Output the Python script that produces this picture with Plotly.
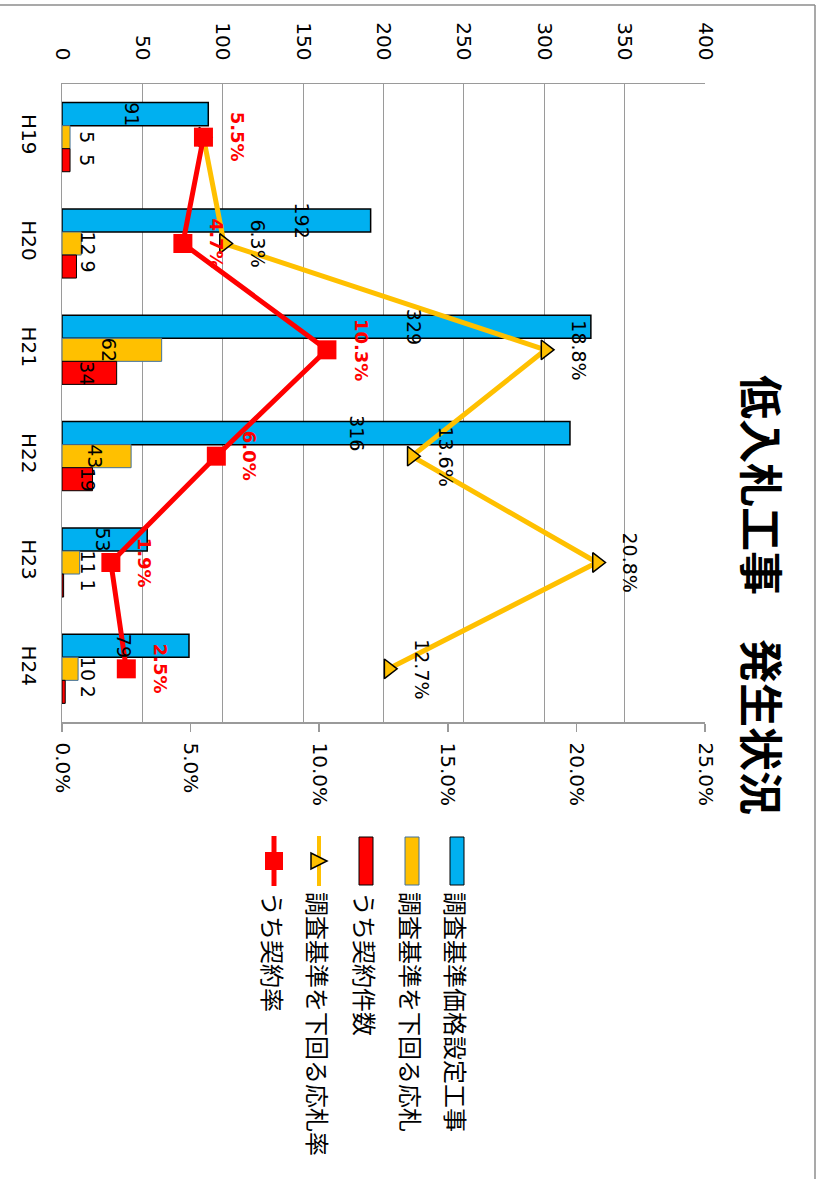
import plotly.graph_objects as go

# ---------------- data ----------------
categories = ["H19", "H20", "H21", "H22", "H23", "H24"]
set_works = [91, 192, 329, 316, 53, 79]          # 調査基準価格設定工事
below_bids = [5, 12, 62, 43, 11, 10]             # 調査基準を下回る応札
contracts = [5, 9, 34, 19, 1, 2]                 # うち契約件数
below_rate = [0.055, 0.063, 0.188, 0.136, 0.208, 0.127]   # 調査基準を下回る応札率
contract_rate = [0.055, 0.047, 0.103, 0.060, 0.019, 0.025]  # うち契約率

count_ticks = [0, 50, 100, 150, 200, 250, 300, 350, 400]
rate_ticks = [0, 0.05, 0.10, 0.15, 0.20, 0.25]

names = ["調査基準価格設定工事", "調査基準を下回る応札", "うち契約件数",
         "調査基準を下回る応札率", "うち契約率"]
title = "低入札工事　発生状況"

# ---------------- styles ----------------
BLUE = "#00B0F0"
YEL = "#FFC000"
RED = "#FF0000"
GRID = "#9a9a9a"
LAT = "DejaVu Sans"
JP = "Noto Sans CJK JP"

# plot area in pixels
L, R, T, B = 62, 705, 84, 722
W, H = 823, 1179
def px(x):
    return (x - L) / (R - L)
def py(y):
    return (B - y) / (B - T)

# label pixel offsets from the value-axis origin (label placement style)
blue_lbl_px = [70, 240, 352, 295, 41, 62]
yel_lbl_px = [25, 26, 47, 33, 26, 26]
red_lbl_px = [25, 26, 25.5, 25.5, 26, 26]
BAR_PX = 23

fig = go.Figure()
fig.add_trace(go.Bar(y=categories, x=set_works, orientation="h", name=names[0],
                     marker=dict(color=BLUE, line=dict(color="black", width=1.5)),
                     xaxis="x", yaxis="y"))
fig.add_trace(go.Bar(y=categories, x=below_bids, orientation="h", name=names[1],
                     marker=dict(color=YEL, line=dict(color="#41719C", width=1)),
                     xaxis="x", yaxis="y"))
fig.add_trace(go.Bar(y=categories, x=contracts, orientation="h", name=names[2],
                     marker=dict(color=RED, line=dict(color="black", width=1)),
                     xaxis="x", yaxis="y"))
fig.add_trace(go.Scatter(y=categories, x=below_rate, name=names[3], mode="lines+markers",
                         line=dict(color=YEL, width=5),
                         marker=dict(symbol="triangle-right", size=17, color=YEL,
                                     line=dict(color="black", width=1.5)),
                         xaxis="x2", yaxis="y"))
fig.add_trace(go.Scatter(y=categories, x=contract_rate, name=names[4], mode="lines+markers",
                         line=dict(color=RED, width=5),
                         marker=dict(symbol="square", size=19, color=RED),
                         xaxis="x2", yaxis="y"))

ann = []
# bar value labels
for i, c in enumerate(categories):
    for vals, offs, shift in ((set_works, blue_lbl_px, BAR_PX),
                              (below_bids, yel_lbl_px, 0),
                              (contracts, red_lbl_px, -BAR_PX)):
        ann.append(dict(x=0, y=c, xref="x", yref="y", xshift=offs[i], yshift=shift,
                        text=str(vals[i]), textangle=90, showarrow=False,
                        xanchor="center", yanchor="middle",
                        font=dict(family=LAT, size=19, color="black")))
# rate labels
for i, c in enumerate(categories):
    if i > 0:
        ann.append(dict(x=below_rate[i], y=c, xref="x2", yref="y", xshift=34,
                        text=f"{below_rate[i]*100:.1f}%", textangle=90, showarrow=False,
                        xanchor="center", yanchor="middle",
                        font=dict(family=LAT, size=19, color="black")))
    ann.append(dict(x=contract_rate[i], y=c, xref="x2", yref="y", xshift=34,
                    text=f"<b>{contract_rate[i]*100:.1f}%</b>", textangle=90, showarrow=False,
                    xanchor="center", yanchor="middle",
                    font=dict(family=LAT, size=18, color=RED)))

# title
ann.append(dict(x=px(763), y=py(595), xref="paper", yref="paper", text=f"<b>{title}</b>",
                textangle=90, showarrow=False, xanchor="center", yanchor="middle",
                font=dict(family=JP, size=44, color="black")))

# legend (drawn manually, rotated)
shapes = []
leg_x = [457, 412, 366, 319, 274]
for k, xc in enumerate(leg_x):
    ann.append(dict(x=px(xc), y=py(890), xref="paper", yref="paper", text=names[k],
                    textangle=90, showarrow=False, xanchor="center", yanchor="top",
                    font=dict(family=JP, size=24, color="black")))
rect_styles = [(BLUE, "black"), (YEL, "#41719C"), (RED, "black")]
for k in range(3):
    xc = leg_x[k]
    shapes.append(dict(type="rect", xref="paper", yref="paper",
                       x0=px(xc - 7), x1=px(xc + 7), y0=py(885), y1=py(837),
                       fillcolor=rect_styles[k][0], line=dict(color=rect_styles[k][1], width=1)))
# yellow line legend
xc = leg_x[3]
shapes.append(dict(type="line", xref="paper", yref="paper", x0=px(xc), x1=px(xc),
                   y0=py(836), y1=py(886), line=dict(color=YEL, width=4)))
shapes.append(dict(type="path", xref="paper", yref="paper",
                   path=f"M {px(xc-8)},{py(853)} L {px(xc-8)},{py(869)} L {px(xc+8)},{py(861)} Z",
                   fillcolor=YEL, line=dict(color="black", width=1.5)))
# red line legend
xc = leg_x[4]
shapes.append(dict(type="line", xref="paper", yref="paper", x0=px(xc), x1=px(xc),
                   y0=py(836), y1=py(886), line=dict(color=RED, width=5)))
shapes.append(dict(type="rect", xref="paper", yref="paper",
                   x0=px(xc - 9), x1=px(xc + 9), y0=py(870), y1=py(852),
                   fillcolor=RED, line=dict(color=RED, width=0)))
# outer chart border (top and right visible)
shapes.append(dict(type="line", xref="paper", yref="paper", x0=px(-5), x1=px(815),
                   y0=py(5), y1=py(5), line=dict(color="#8c8c8c", width=1.5)))
shapes.append(dict(type="line", xref="paper", yref="paper", x0=px(815), x1=px(815),
                   y0=py(5), y1=py(1185), line=dict(color="#8c8c8c", width=1.5)))

fig.update_layout(
    width=W, height=H,
    margin=dict(l=L, r=W - R, t=T, b=H - B, pad=0, autoexpand=False),
    paper_bgcolor="white", plot_bgcolor="white",
    barmode="group", bargap=0.35, bargroupgap=0,
    showlegend=False, hovermode=False,
    xaxis=dict(range=[0, 400], tickvals=count_ticks, side="top", showgrid=True,
               gridcolor=GRID, gridwidth=1, zeroline=False, showline=True,
               linecolor=GRID, linewidth=1.5, ticks="", tickangle=90,
               ticklabelstandoff=15, automargin=False,
               tickfont=dict(family=LAT, size=20, color="black")),
    xaxis2=dict(range=[0, 0.25], tickvals=rate_ticks, tickformat=".1%", overlaying="x",
                side="bottom", anchor="y", showgrid=False, zeroline=False, showline=True,
                linecolor=GRID, linewidth=1.5, ticks="outside", ticklen=8, tickcolor=GRID,
                tickwidth=1.5, tickangle=90, ticklabelstandoff=7, automargin=False,
                tickfont=dict(family=LAT, size=20, color="black")),
    yaxis=dict(categoryorder="array", categoryarray=categories, autorange="reversed",
               showgrid=False, zeroline=False, showline=True, linecolor=GRID, linewidth=1.5,
               ticks="", tickangle=90, ticklabelstandoff=15, automargin=False,
               tickfont=dict(family=LAT, size=20, color="black")),
    annotations=ann, shapes=shapes,
)

fig.write_html("out.html", config={"displayModeBar": False, "staticPlot": True},
               post_script="document.body.style.margin='0';document.body.style.padding='0';")
